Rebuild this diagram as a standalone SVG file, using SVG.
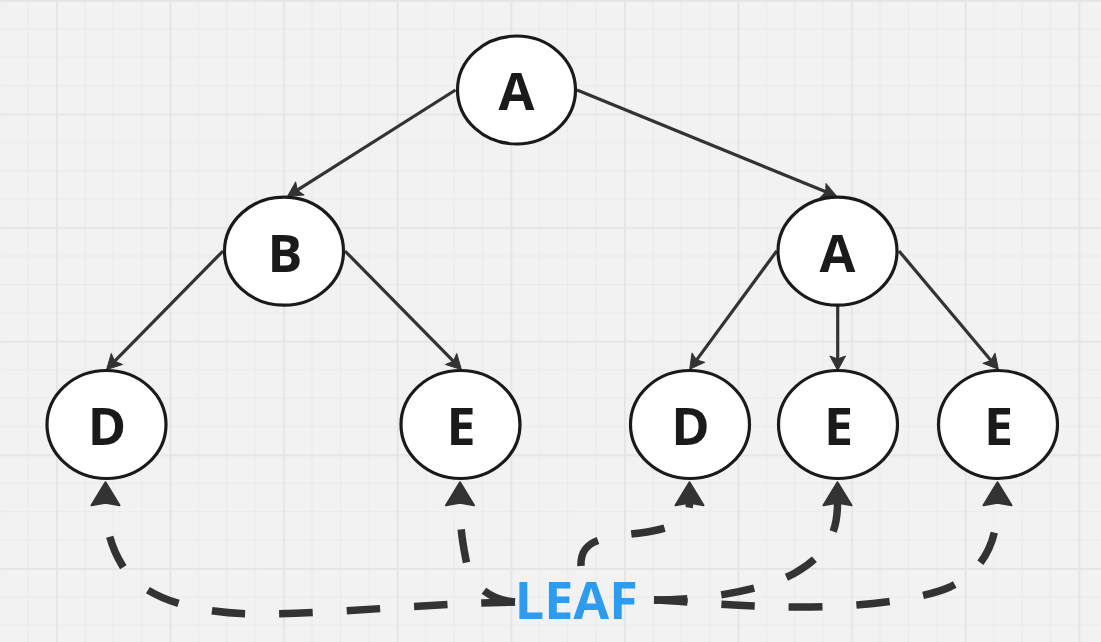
<svg xmlns="http://www.w3.org/2000/svg" width="1101" height="642" viewBox="0 0 1101 642">
<defs>
<pattern id="grid" x="56" y="0" width="113.6" height="113.6" patternUnits="userSpaceOnUse">
<rect width="113.6" height="113.6" fill="#f2f2f2"/>
<rect x="28.4" y="0" width="1" height="113.6" fill="#eaeaea"/>
<rect x="56.8" y="0" width="1" height="113.6" fill="#eaeaea"/>
<rect x="85.2" y="0" width="1" height="113.6" fill="#eaeaea"/>
<rect x="0" y="28.4" width="113.6" height="1" fill="#eaeaea"/>
<rect x="0" y="56.8" width="113.6" height="1" fill="#eaeaea"/>
<rect x="0" y="85.2" width="113.6" height="1" fill="#eaeaea"/>
<rect x="0" y="0" width="1.6" height="113.6" fill="#e3e3e3"/>
<rect x="0" y="0" width="113.6" height="1.6" fill="#e3e3e3"/>
</pattern>
<marker id="arr" viewBox="-2 -10 20 20" markerWidth="20" markerHeight="20" refX="3" refY="0" orient="auto" markerUnits="userSpaceOnUse">
<path d="M0,-7.8 L14.5,0 L0,7.8 L3,0 Z" fill="#333" stroke="#333" stroke-width="1" stroke-linejoin="round"/>
</marker>
<marker id="big" viewBox="-2 -17 30 34" markerWidth="30" markerHeight="34" refX="2" refY="0" orient="auto" markerUnits="userSpaceOnUse">
<path d="M0,-14 L23,0 L0,14 L2.5,0 Z" fill="#333" stroke="#333" stroke-width="2" stroke-linejoin="round"/>
</marker>
</defs>
<style>
.edge{fill:none;stroke:#333;stroke-width:3.2;marker-end:url(#arr)}
.dash{fill:none;stroke:#333;stroke-width:7.5;stroke-dasharray:33.5 34;marker-end:url(#big)}
.node ellipse{fill:#fff;stroke:#1a1a1a;stroke-width:3.2}
.node text{font-family:"Open Sans","Noto Sans",sans-serif;font-weight:700;font-size:52px;fill:#1a1a1a;text-anchor:middle}
.leaf{font-family:"Open Sans","Noto Sans",sans-serif;font-weight:700;font-size:52px;fill:#2d9cef;text-anchor:middle}
</style>
<rect width="1101" height="642" fill="url(#grid)"/>
<g id="connectors">
<path class="edge" d="M455.5,90 L297.3,190.1"/>
<path class="edge" d="M577,90 L825.8,191.8"/>
<path class="edge" d="M223,251 L114.7,361.2"/>
<path class="edge" d="M345,251 L453.3,361.2"/>
<path class="edge" d="M776.7,251 L696.5,360.1"/>
<path class="edge" d="M837.7,306 L837.7,359"/>
<path class="edge" d="M899,251 L991,360.5"/>
<path class="dash" d="M515,602 C420,604 330,614 260,614 C190,614 140,596 122,565 C110,545 105.5,525 105.5,503.3"/>
<path class="dash" d="M515,602 C490,600 470,585 466,560 C462,540 460,525 460,503.3"/>
<path class="dash" d="M581,566 C580,540 600,538 640,533 C670,529 689.5,522 689.5,503.3"/>
<path class="dash" d="M654,600 C700,600 760,592 795,573 C825,556 837.5,535 837.5,503.3"/>
<path class="dash" d="M654,600 C700,602 740,607 800,607 C860,607 920,600 950,587 C985,570 997.5,540 997.5,503.3"/>
</g>
<g id="node-a-root" class="node"><ellipse cx="516.5" cy="90" rx="59" ry="54"/><text x="516.5" y="110">A</text></g>
<g id="node-b" class="node"><ellipse cx="284" cy="251.2" rx="59.5" ry="54"/><text x="285" y="271.5">B</text></g>
<g id="node-a-right" class="node"><ellipse cx="837.5" cy="251.2" rx="59.5" ry="54"/><text x="837.5" y="271.5">A</text></g>
<g id="node-d-left" class="node"><ellipse cx="106.5" cy="424.5" rx="59.5" ry="54"/><text x="107" y="445">D</text></g>
<g id="node-e-left" class="node"><ellipse cx="460.5" cy="424.5" rx="59.5" ry="54"/><text x="461" y="445">E</text></g>
<g id="node-d-right" class="node"><ellipse cx="690" cy="424.5" rx="59.5" ry="54"/><text x="690.5" y="445">D</text></g>
<g id="node-e-mid" class="node"><ellipse cx="838" cy="424.5" rx="59.5" ry="54"/><text x="838.5" y="445">E</text></g>
<g id="node-e-right" class="node"><ellipse cx="998" cy="424.5" rx="59.5" ry="54"/><text x="998.5" y="445">E</text></g>
<text id="leaf" class="leaf" x="576.3" y="619.3">LEAF</text>
</svg>
